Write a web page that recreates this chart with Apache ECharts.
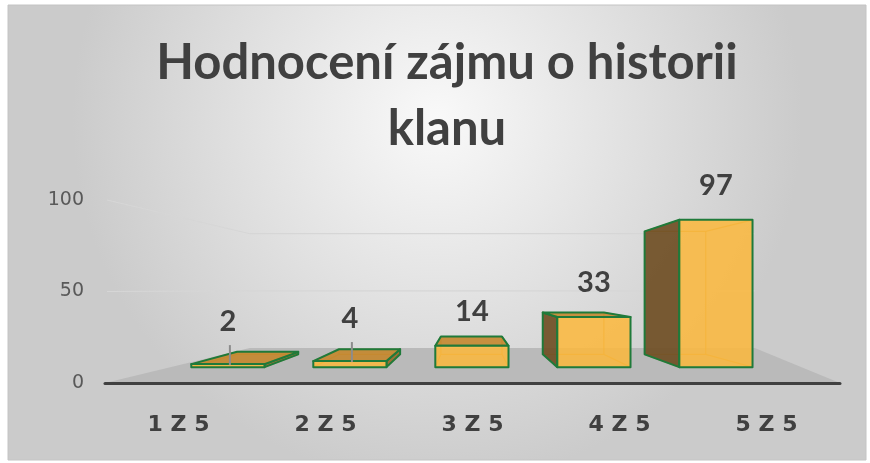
<!DOCTYPE html>
<html>
<head>
<meta charset="utf-8">
<title>Hodnocení zájmu o historii klanu</title>
<script src="https://cdn.jsdelivr.net/npm/echarts@6/dist/echarts.min.js"></script>
</head>
<body style="margin:0">
<div id="main" style="width:870px;height:463px"></div>
<script>
var titleLines = ['Hodnocení zájmu o historii', 'klanu'];
var categories = ['1 Z 5', '2 Z 5', '3 Z 5', '4 Z 5', '5 Z 5'];
var values = [2, 4, 14, 33, 97];
var yMin = 0, yMax = 100, yStep = 50;
var wallLines = [50, 100];

// fake 3D: everything is squeezed toward a vanishing point
var EYE_X = 469;       // px
var EYE_VALUE = 51;    // eye height, in axis units
var K_FRONT = 0.83;    // bar front plane
var K_BACK = K_FRONT * 0.835;
var K_WALL = 0.624;    // back wall
var FONT = 'Lato, "Open Sans", sans-serif';

var myChart = echarts.init(document.getElementById('main'));

function proj(p, vp, k) {
    return [vp[0] + k * (p[0] - vp[0]), vp[1] + k * (p[1] - vp[1])];
}

function renderFloor(params, api) {
    var cs = params.coordSys;
    var vp = [EYE_X, api.coord([0, EYE_VALUE])[1]];
    var bx1 = cs.x + cs.width * 0.197, bx2 = cs.x + cs.width * 0.884;
    var y0 = cs.y + cs.height;
    var by0 = vp[1] + K_WALL * (y0 - vp[1]);
    var kids = [{
        type: 'polygon',
        shape: {points: [[cs.x, y0], [bx1, by0], [bx2, by0], [cs.x + cs.width, y0]]},
        style: {fill: '#bababa'}
    }];
    wallLines.forEach(function (v) {
        var fy = api.coord([0, v])[1];
        var by = vp[1] + K_WALL * (fy - vp[1]);
        kids.push({
            type: 'polyline',
            shape: {points: [[cs.x + 2, fy], [bx1, by], [bx2, by]]},
            style: {stroke: '#d6d6d6', lineWidth: 1.2, fill: null}
        });
    });
    return {type: 'group', children: kids};
}

function renderBar(params, api) {
    var i = api.value(0), v = api.value(1);
    var top = api.coord([i, v]);
    var base = api.coord([i, 0]);
    var hw = api.size([1, 0])[0] * 0.3;
    var vp = [EYE_X, api.coord([i, EYE_VALUE])[1]];
    var L = top[0] - hw, R = top[0] + hw;
    var fbl = proj([L, base[1]], vp, K_FRONT), fbr = proj([R, base[1]], vp, K_FRONT);
    var ftr = proj([R, top[1]], vp, K_FRONT), ftl = proj([L, top[1]], vp, K_FRONT);
    var bbl = proj([L, base[1]], vp, K_BACK), bbr = proj([R, base[1]], vp, K_BACK);
    var btr = proj([R, top[1]], vp, K_BACK), btl = proj([L, top[1]], vp, K_BACK);
    var green = '#1f7a3a';
    var kids = [];
    // hidden edges, seen through the faces
    [[bbl, bbr], [bbr, btr], [btr, btl], [btl, bbl], [fbl, bbl], [fbr, bbr], [ftr, btr], [ftl, btl]].forEach(function (e) {
        kids.push({type: 'line', shape: {x1: e[0][0], y1: e[0][1], x2: e[1][0], y2: e[1][1]},
            style: {stroke: 'rgba(205,150,40,0.8)', lineWidth: 1.2}});
    });
    if (fbl[0] > vp[0]) {
        kids.push({type: 'polygon', shape: {points: [fbl, ftl, btl, bbl]},
            style: {fill: 'rgba(112,80,38,0.93)', stroke: green, lineWidth: 2, lineJoin: 'round'}});
    }
    if (fbr[0] < vp[0]) {
        kids.push({type: 'polygon', shape: {points: [fbr, ftr, btr, bbr]},
            style: {fill: 'rgba(150,105,40,0.9)', stroke: green, lineWidth: 2, lineJoin: 'round'}});
    }
    if (ftl[1] > vp[1]) {
        kids.push({type: 'polygon', shape: {points: [ftl, ftr, btr, btl]},
            style: {fill: 'rgba(196,135,45,0.9)', stroke: green, lineWidth: 2, lineJoin: 'round'}});
    }
    kids.push({type: 'polygon', shape: {points: [fbl, fbr, ftr, ftl]},
        style: {fill: 'rgba(252,184,60,0.86)', stroke: green, lineWidth: 2, lineJoin: 'round'}});

    // data label, small ones get a leader line
    var cx = (ftl[0] + ftr[0]) / 2;
    var lead = v < 10;
    var ly = ftl[1] - (lead ? 42 : 34);
    if (lead) {
        kids.push({type: 'line', shape: {x1: cx + 2, y1: ftl[1] - 19, x2: cx + 2, y2: ftl[1] + 1},
            style: {stroke: '#8c8c8c', lineWidth: 2}});
    }
    kids.push({type: 'text', x: cx, y: ly, style: {
        text: String(v), align: 'center', verticalAlign: 'middle',
        fontSize: 29, fontWeight: 'bold', fontFamily: FONT, fill: '#404040'
    }});
    return {type: 'group', children: kids};
}

option = {
    backgroundColor: '#ffffff',
    animation: false,
    graphic: [
        {
            type: 'rect', z: -10, silent: true,
            shape: {x: 8, y: 5, width: 858, height: 455},
            style: {
                fill: new echarts.graphic.RadialGradient(0.5, 0.25, 0.8, [
                    {offset: 0, color: '#f9f9f9'},
                    {offset: 1, color: '#cbcbcb'}
                ]),
                stroke: '#c4c4c4', lineWidth: 1
            }
        },
        {
            type: 'text', x: 447, y: 63,
            style: {text: titleLines[0], align: 'center', verticalAlign: 'middle',
                fontSize: 49, fontWeight: 'bold', fontFamily: FONT, fill: '#404040'}
        },
        {
            type: 'text', x: 447, y: 129,
            style: {text: titleLines[1], align: 'center', verticalAlign: 'middle',
                fontSize: 49, fontWeight: 'bold', fontFamily: FONT, fill: '#404040'}
        }
    ],
    grid: {left: 105, right: 30, top: 200, bottom: 80},
    xAxis: {
        type: 'category',
        data: categories,
        z: 5,
        axisLine: {lineStyle: {color: '#404040', width: 3}},
        axisTick: {show: false},
        axisLabel: {margin: 31, fontSize: 22, fontWeight: 'bold', fontFamily: '"DejaVu Sans"', color: '#404040'}
    },
    yAxis: {
        type: 'value',
        min: yMin,
        max: yMax,
        interval: yStep,
        axisLine: {show: false},
        axisTick: {show: false},
        splitLine: {show: false},
        axisLabel: {margin: 21, fontSize: 19, padding: [7, 0, 0, 0], fontFamily: '"DejaVu Sans"', color: '#595959'}
    },
    series: [
        {
            type: 'custom',
            z: 1,
            silent: true,
            renderItem: renderFloor,
            data: [[0]]
        },
        {
            type: 'custom',
            z: 2,
            renderItem: renderBar,
            data: values.map(function (v, i) { return [i, v]; })
        }
    ]
};

myChart.setOption(option);
</script>
</body>
</html>
